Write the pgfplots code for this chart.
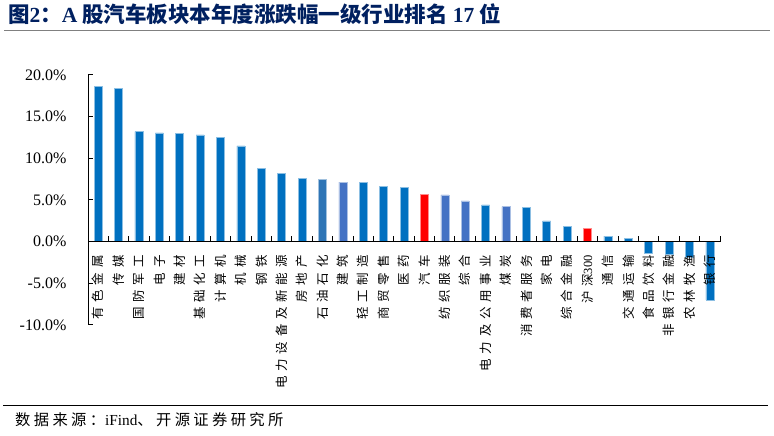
\documentclass[border=0pt]{standalone}
\usepackage{fontspec}
\setmainfont{Liberation Serif}
\newfontfamily\cjk{Noto Sans CJK SC}
\newfontfamily\cjklab[LetterSpace=38]{Noto Sans CJK SC}
\newfontfamily\cjksrc[LetterSpace=22]{Noto Sans CJK SC}
\usepackage{pgfplots}
\pgfplotsset{compat=1.18}
\definecolor{bA}{HTML}{0070C0}
\definecolor{bB}{HTML}{2E75B6}
\definecolor{bC}{HTML}{4472C4}
\definecolor{rr}{HTML}{FF0000}
\definecolor{ttl}{RGB}{0,32,96}
\definecolor{rule}{RGB}{128,128,128}
\begin{document}
\begin{tikzpicture}[x=1bp,y=1bp]
\useasboundingbox (0,0) rectangle (774,436);
\node[anchor=west,inner sep=0pt,text=ttl] at (8,422) {\fontsize{21.5bp}{23bp}\selectfont\cjk\bfseries 图{\rmfamily\bfseries 2}：{\rmfamily\bfseries A} 股汽车板块本年度涨跌幅一级行业排名 {\rmfamily\bfseries 17} 位};
\draw[rule,line width=1.6bp] (4,405.3) -- (770,405.3);
\draw[black,line width=1bp] (3,30) -- (768,30);
\node[anchor=west,inner sep=0pt] at (15,16) {\fontsize{15.3bp}{17bp}\selectfont\cjksrc 数据来源：{\rmfamily iFind}、开源证券研究所};
\begin{axis}[
  at={(88bp,111bp)}, anchor=south west,
  scale only axis, width=632bp, height=250bp,
  xmin=-0.5, xmax=30.5, ymin=-10, ymax=20,
  axis on top,
  axis y line=left, axis x line=middle,
  x axis line style={-, line width=0.9bp, black},
  y axis line style={-, line width=0.9bp, black},
  ytick={-10,-5,0,5,10,15,20},
  yticklabels={-10.0\%,-5.0\%,0.0\%,5.0\%,10.0\%,15.0\%,20.0\%},
  yticklabel style={font=\fontsize{16bp}{18bp}\selectfont, xshift=-16bp},
  ytick style={draw=none},
  xtick={0,...,30},
  xticklabels={有色金属,传媒,国防军工,电子,建材,基础化工,计算机,机械,钢铁,电力设备及新能源,房地产,石油石化,建筑,轻工制造,商贸零售,医药,汽车,纺织服装,综合,电力及公用事业,煤炭,消费者服务,家电,综合金融,{沪深{\rmfamily 300}},通信,交通运输,食品饮料,非银行金融,农林牧渔,银行},
  xtick style={draw=none},
  xticklabel style={yshift=-8bp, rotate=90, anchor=east, font=\fontsize{12.5bp}{14bp}\selectfont\cjklab},
  every axis plot/.append style={ybar, bar width=8bp, bar shift=0pt},
]
\addplot[fill=bA, draw=bA!45!white, line width=0.5bp] coordinates {
(0,18.6) (1,18.4) (2,13.2) (3,13.05) (4,13.0) (5,12.8) (6,12.5) (7,11.5) (8,8.75) (9,8.2) (10,7.6)
(13,7.07) (14,6.6) (15,6.5) (19,4.4) (21,4.1) (22,2.5) (23,1.8) (25,0.65) (26,0.36)
(27,-1.4) (28,-1.5) (29,-1.9) (30,-7.0)};
\addplot[fill=bB, draw=bB!45!white, line width=0.5bp] coordinates {(11,7.5)};
\addplot[fill=bC, draw=bC!45!white, line width=0.5bp] coordinates {(12,7.15) (17,5.6) (18,4.9) (20,4.2)};
\addplot[fill=rr, draw=rr!45!white, line width=0.5bp] coordinates {(16,5.7) (24,1.57)};
\end{axis}
\foreach \i in {0,...,31} {\draw[black,line width=1bp] (88+\i*20.387,194.33) -- (88+\i*20.387,199.8);}
\foreach \v in {0,...,6} {\draw[black,line width=1bp] (88,111+\v*41.667) -- (92.5,111+\v*41.667);}
\end{tikzpicture}
\end{document}
